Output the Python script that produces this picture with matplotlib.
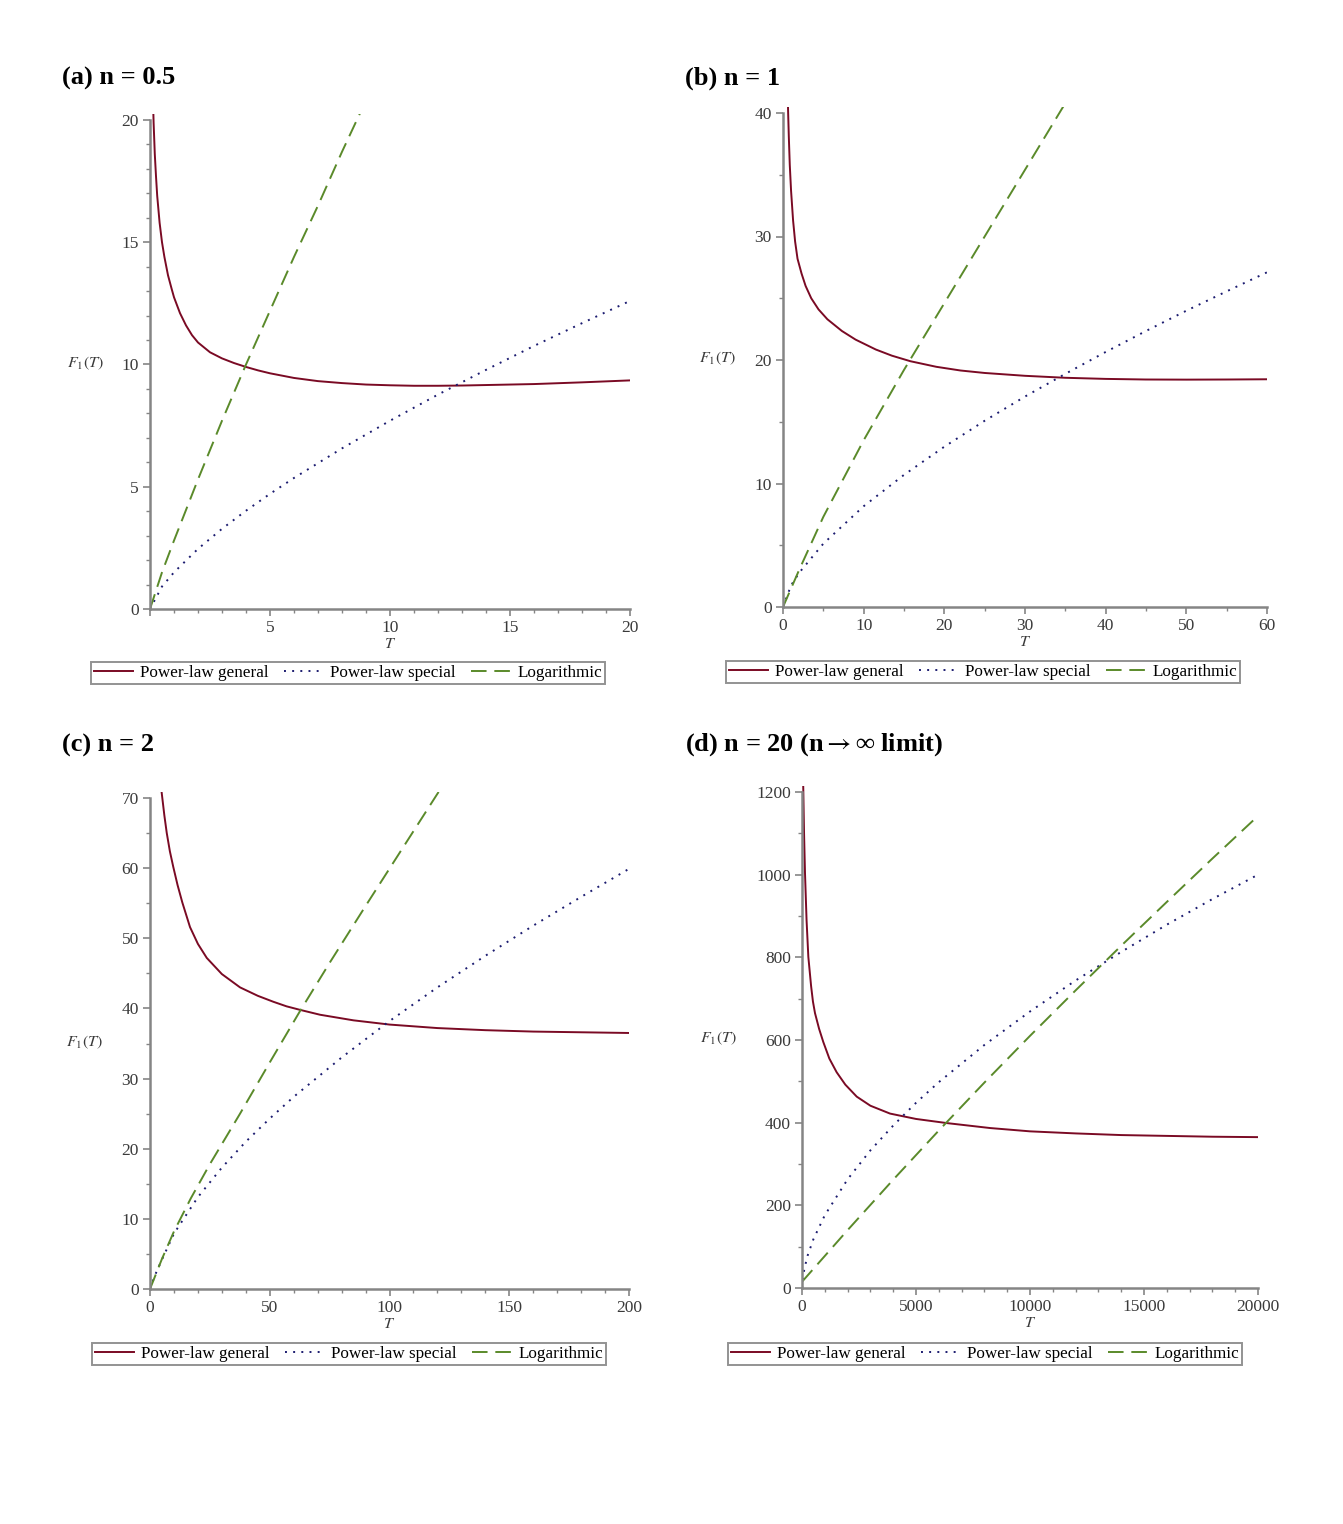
import matplotlib
matplotlib.use("Agg")
import matplotlib.pyplot as plt
from matplotlib.ticker import MultipleLocator, FuncFormatter

plt.rcParams["font.family"] = ["Liberation Serif", "DejaVu Serif"]
plt.rcParams["mathtext.fontset"] = "stix"

W, H = 1343, 1524

# ---- (a) n = 0.5 ----
a_gen_T = [0.12, 0.15, 0.2, 0.25, 0.3, 0.4, 0.5, 0.6, 0.75, 0.9, 1.0, 1.25, 1.5, 1.75, 2, 2.5, 3, 3.5,
           4, 4.5, 5, 6, 7, 8, 9, 10, 11, 12, 13, 14, 16, 18, 20]
a_gen_F = [21.0, 19.9, 18.6, 17.7, 16.9, 15.8, 15.0, 14.4, 13.65, 13.1, 12.75, 12.1, 11.6, 11.2, 10.9,
           10.5, 10.25, 10.06, 9.9, 9.76, 9.64, 9.45, 9.32, 9.24, 9.18, 9.15, 9.13, 9.13, 9.14, 9.16,
           9.2, 9.27, 9.35]
a_spe_T = [0, 0.5, 1, 2, 3, 4, 5, 6, 8, 10, 12, 14, 16, 18, 20]
a_spe_F = [0, 0.92, 1.50, 2.46, 3.28, 4.02, 4.71, 5.36, 6.57, 7.70, 8.77, 9.78, 10.76, 11.69, 12.6]
a_log_T = [0, 0.5, 1, 2, 3, 4, 5, 6, 7, 8, 9]
a_log_F = [0, 1.5, 2.8, 5.3, 7.7, 10.0, 12.2, 14.4, 16.5, 18.7, 20.8]

# ---- (b) n = 1 ----
b_gen_T = [0.55, 0.63, 0.72, 0.84, 1.0, 1.25, 1.5, 1.8, 2.3, 2.8, 3.5, 4.4, 5.5, 7.3, 9, 11.5, 13.5,
           15.8, 19, 22, 25, 30, 35, 40, 45, 50, 55, 60]
b_gen_F = [42.6, 40.2, 38.1, 35.8, 33.7, 31.3, 29.6, 28.2, 27.0, 26.0, 25.0, 24.1, 23.3, 22.35, 21.65,
           20.85, 20.35, 19.9, 19.45, 19.15, 18.95, 18.72, 18.56, 18.47, 18.42, 18.41, 18.42, 18.44]
b_spe_T = [0, 1, 2, 5, 10, 15, 20, 25, 30, 35, 40, 45, 50, 55, 60]
b_spe_F = [0, 1.75, 2.77, 5.13, 8.16, 10.7, 12.98, 15.08, 17.04, 18.88, 20.65, 22.35, 23.99, 25.56, 27.1]
b_log_T = [0, 2, 5, 10, 15, 20, 25, 30, 35]
b_log_F = [0, 3.0, 7.3, 13.5, 19.2, 24.6, 30.0, 35.4, 40.8]

# ---- (c) n = 2 ----
c_gen_T = [4.4, 4.9, 6, 7, 8.3, 9.7, 11.5, 13.5, 16.7, 20, 23.7, 30, 37.6, 45, 51.5, 57, 62.6, 71, 85,
           100, 120, 140, 160, 180, 200]
c_gen_F = [72.3, 70.7, 67.5, 65.0, 62.4, 60.2, 57.6, 55.1, 51.6, 49.2, 47.2, 44.9, 43.0, 41.8, 40.95,
           40.3, 39.8, 39.1, 38.3, 37.7, 37.2, 36.9, 36.7, 36.6, 36.5]
c_spe_T = [0, 2, 5, 10, 20, 30, 40, 50, 60, 80, 100, 120, 140, 160, 180, 200]
c_spe_F = [0, 1.9, 4.2, 7.9, 13.1, 17.3, 21.0, 24.3, 27.4, 33.0, 38.2, 43.0, 47.5, 51.8, 55.9, 59.9]
c_log_T = [0, 5, 10, 17, 25, 37.6, 50, 62.6, 75, 90, 105, 120, 125]
c_log_F = [0, 4.3, 8.2, 12.9, 17.8, 25.0, 32.3, 39.6, 46.5, 54.6, 62.6, 70.6, 73.2]

# ---- (d) n = 20 ----
d_gen_T = [40, 57, 90, 132, 200, 278, 400, 480, 570, 750, 935, 1200, 1520, 1900, 2400, 3000, 3860,
           5000, 6350, 8250, 10000, 12000, 14000, 16000, 18000, 20000]
d_gen_F = [1250, 1205, 1100, 1003, 890, 801, 730, 693, 665, 627, 595, 555, 522, 492, 463, 441, 422,
           409, 399, 387, 379, 374, 370, 368, 366, 365]
d_spe_T = [0, 100, 250, 500, 1000, 2000, 3000, 4000, 5000, 6000, 8000, 10000, 12000, 14000, 16000,
           18000, 20000]
d_spe_F = [0, 46, 79, 118, 176, 263, 333, 393, 448, 498, 588, 669, 744, 813, 879, 941, 1000]
d_log_T = [0, 2000, 4000, 6000, 8000, 10000, 12000, 14000, 16000, 18000, 20000]
d_log_F = [15, 140, 262, 381, 497, 610, 720, 828, 934, 1039, 1142]

titles = ["(a) n = 0.5", "(b) n = 1", "(c) n = 2", "(d) n = 20 (n$\\rightarrow$\u221e limit)"]
legend_labels = ["Power-law general", "Power-law special", "Logarithmic"]

RED = "#7a0a24"
BLUE = "#1c1c70"
GREEN = "#5a8a2a"
GRAY = "#858585"

panels = [
    # data, xmax, ymax, x major/minor, y major/minor, px box (x0, y0, x1, y1), title pos, legend centre, ylabel pos
    ((a_gen_T, a_gen_F, a_spe_T, a_spe_F, a_log_T, a_log_F), 20, 20, 5, 1, 5, 1,
     (150, 609, 630, 120), (62, 78), (348, 673), (85, 363), True),
    ((b_gen_T, b_gen_F, b_spe_T, b_spe_F, b_log_T, b_log_F), 60, 40, 10, 5, 10, 5,
     (783, 607, 1267, 113), (685, 78), (983, 672), (717, 358), False),
    ((c_gen_T, c_gen_F, c_spe_T, c_spe_F, c_log_T, c_log_F), 200, 70, 50, 10, 10, 5,
     (150, 1289, 629, 798), (62, 745), (349, 1354), (84, 1042), False),
    ((d_gen_T, d_gen_F, d_spe_T, d_spe_F, d_log_T, d_log_F), 20000, 1200, 5000, 1000, 200, 100,
     (802, 1288, 1258, 792), (685, 745), (985, 1354), (718, 1038), False),
]

fig = plt.figure(figsize=(W / 100, H / 100), dpi=100)

for i, (data, xmax, ymax, xmaj, xmin, ymaj, ymin, box, tpos, lpos, ypos, hide0) in enumerate(panels):
    x0, y0, x1, y1 = box
    extra = 6  # px of headroom above the top tick
    ytop = ymax * (y0 - y1 + extra) / (y0 - y1)
    ax = fig.add_axes([x0 / W, 1 - y0 / H, (x1 - x0) / W, (y0 - y1 + extra) / H])
    gT, gF, sT, sF, lT, lF = data
    h1, = ax.plot(gT, gF, color=RED, lw=1.4)
    h2, = ax.plot(sT, sF, color=BLUE, lw=1.4, linestyle=(0, (1, 3.2)))
    h3, = ax.plot(lT, lF, color=GREEN, lw=1.4, linestyle=(0, (8, 4)))
    ax.set_xlim(0, xmax)
    ax.set_ylim(0, ytop)
    for s in ["top", "right"]:
        ax.spines[s].set_visible(False)
    for s in ["left", "bottom"]:
        ax.spines[s].set_color(GRAY)
        ax.spines[s].set_linewidth(1.8)
    ax.spines["left"].set_bounds(0, ymax)
    ax.xaxis.set_major_locator(MultipleLocator(xmaj))
    ax.xaxis.set_minor_locator(MultipleLocator(xmin))
    ax.yaxis.set_major_locator(MultipleLocator(ymaj))
    ax.yaxis.set_minor_locator(MultipleLocator(ymin))
    if hide0:
        ax.xaxis.set_major_formatter(FuncFormatter(lambda v, p: "" if v == 0 else "%g" % v))
    else:
        ax.xaxis.set_major_formatter(FuncFormatter(lambda v, p: "%g" % v))
    ax.yaxis.set_major_formatter(FuncFormatter(lambda v, p: "%g" % v if v <= ymax else ""))
    ax.tick_params(which="major", direction="out", length=5, width=1.2, color=GRAY,
                   labelsize=12.5, labelcolor="#3a3a3a", pad=3)
    ax.tick_params(which="minor", direction="out", length=3, width=1.0, color=GRAY)
    ax.set_xlabel("$T$", fontsize=11.5, color="#3a3a3a", labelpad=0)
    fig.text(ypos[0] / W, 1 - ypos[1] / H, "$F_1(T)$", fontsize=11.5, color="#3a3a3a",
             ha="center", va="center")
    fig.text(tpos[0] / W, 1 - tpos[1] / H, titles[i], fontsize=19, fontweight="bold",
             ha="left", va="center")
    leg = ax.legend([h1, h2, h3], legend_labels, loc="center",
                    bbox_to_anchor=(lpos[0] / W, 1 - lpos[1] / H), bbox_transform=fig.transFigure,
                    ncol=3, fancybox=False, edgecolor="#777777", fontsize=12.3,
                    handlelength=2.3, handletextpad=0.4, columnspacing=0.9,
                    borderpad=0.2, borderaxespad=0)
    leg.get_frame().set_linewidth(1.4)

plt.savefig("out.png", dpi=100)
